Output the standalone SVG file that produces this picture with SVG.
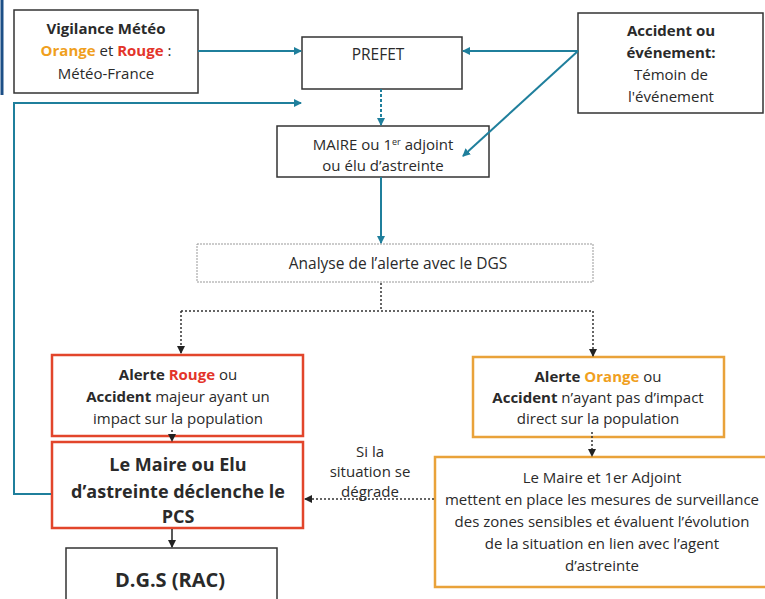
<svg xmlns="http://www.w3.org/2000/svg" width="765" height="599" viewBox="0 0 765 599">
<style>
text{font-family:"Open Sans","Noto Sans","Liberation Sans",sans-serif;fill:#2a2a2a;text-anchor:middle;font-size:15px}
.b{font-weight:bold}
.big{font-size:18px;font-weight:bold}
.or{fill:#f0a01e;font-weight:bold}
.rd{fill:#e3342a;font-weight:bold}
.box{fill:#fff;stroke:#333;stroke-width:1.5}
.red{fill:#fff;stroke:#e2452b;stroke-width:2.5}
.ora{fill:#fff;stroke:#e9a23a;stroke-width:2.5}
.blue{fill:none;stroke:#1f7f9c;stroke-width:2}
.dot{fill:none;stroke:#333;stroke-width:1.5;stroke-dasharray:2 2}
.dotb{fill:none;stroke:#1f7f9c;stroke-width:2;stroke-dasharray:3 2}
</style>
<defs>
<marker id="ab" markerWidth="8" markerHeight="8" refX="7" refY="4" orient="auto" markerUnits="userSpaceOnUse"><path d="M0,0 L8,4 L0,8 z" fill="#1f7f9c"/></marker>
<marker id="ad" markerWidth="8" markerHeight="8" refX="7" refY="4" orient="auto" markerUnits="userSpaceOnUse"><path d="M0,0 L8,4 L0,8 z" fill="#222"/></marker>
</defs>
<rect width="765" height="599" fill="#fff"/>
<line x1="2" y1="0" x2="2" y2="95" stroke="#1c4f86" stroke-width="3"/>
<g id="vigilance">
<rect class="box" x="14" y="10" width="184" height="83"/>
<text x="106" y="34" class="b">Vigilance Météo</text>
<text x="106" y="56"><tspan class="or">Orange</tspan> et <tspan class="rd">Rouge</tspan> :</text>
<text x="106" y="79">Météo-France</text>
</g>
<g id="prefet">
<rect class="box" x="302" y="37" width="160" height="52" stroke-width="1.2"/>
<text x="378" y="60" style="font-size:15.5px">PREFET</text>
</g>
<g id="accident">
<rect class="box" x="578" y="13" width="185" height="100"/>
<text x="671" y="36" class="b">Accident ou</text>
<text x="671" y="58" class="b">événement:</text>
<text x="671" y="80">Témoin de</text>
<text x="671" y="102">l'événement</text>
</g>
<g id="maire">
<rect class="box" x="277" y="126" width="212" height="51" stroke-width="1.2"/>
<text x="383" y="150">MAIRE ou 1<tspan style="font-size:9px" dy="-5">er</tspan><tspan dy="5"> adjoint</tspan></text>
<text x="383" y="171">ou élu d’astreinte</text>
</g>
<g id="analyse">
<rect x="197" y="244" width="396" height="38" fill="#fff" stroke="#999" stroke-width="1" stroke-dasharray="2 1"/>
<text x="398" y="269" style="font-size:15.5px">Analyse de l’alerte avec le DGS</text>
</g>
<g id="alerte-rouge">
<rect class="red" x="52" y="355" width="251" height="81"/>
<text x="178" y="380"><tspan class="b">Alerte </tspan><tspan class="rd">Rouge</tspan> ou</text>
<text x="178" y="402"><tspan class="b">Accident</tspan> majeur ayant un</text>
<text x="178" y="424">impact sur la population</text>
</g>
<g id="pcs">
<rect class="red" x="52" y="442" width="251" height="86"/>
<text x="178" y="471" class="big">Le Maire ou Elu</text>
<text x="178" y="498" class="big">d’astreinte déclenche le</text>
<text x="178" y="523" class="big">PCS</text>
</g>
<g id="dgs">
<rect class="box" x="66" y="548" width="211" height="60" stroke-width="1.2"/>
<text x="170" y="587" class="big" style="font-size:20px">D.G.S (RAC)</text>
</g>
<g id="alerte-orange">
<rect class="ora" x="473" y="357" width="251" height="80"/>
<text x="598" y="382"><tspan class="b">Alerte </tspan><tspan class="or">Orange</tspan> ou</text>
<text x="598" y="403"><tspan class="b">Accident</tspan> n’ayant pas d’impact</text>
<text x="598" y="424">direct sur la population</text>
</g>
<g id="surveillance">
<rect class="ora" x="435" y="457" width="340" height="130"/>
<text x="602" y="483">Le Maire et 1er Adjoint</text>
<text x="602" y="505">mettent en place les mesures de surveillance</text>
<text x="602" y="527">des zones sensibles et évaluent l’évolution</text>
<text x="602" y="549">de la situation en lien avec l’agent</text>
<text x="602" y="571">d’astreinte</text>
</g>
<g id="connectors">
<line class="blue" x1="198" y1="51" x2="301" y2="51" marker-end="url(#ab)"/>
<line class="blue" x1="578" y1="51" x2="463" y2="51" marker-end="url(#ab)"/>
<line class="blue" x1="578" y1="51" x2="463" y2="156" marker-end="url(#ab)"/>
<line class="dotb" x1="381" y1="89" x2="381" y2="125" marker-end="url(#ab)"/>
<line class="blue" x1="381" y1="177" x2="381" y2="243" marker-end="url(#ab)"/>
<polyline class="blue" points="51,494 14,494 14,103 301,103" marker-end="url(#ab)"/>
<line class="dot" x1="381" y1="283" x2="381" y2="311"/>
<line class="dot" x1="181" y1="311" x2="593" y2="311"/>
<line class="dot" x1="181" y1="311" x2="181" y2="353" marker-end="url(#ad)"/>
<line class="dot" x1="593" y1="311" x2="593" y2="356" marker-end="url(#ad)"/>
<line class="dot" x1="172" y1="430" x2="172" y2="441" marker-end="url(#ad)"/>
<line class="dot" x1="592" y1="432" x2="592" y2="456" marker-end="url(#ad)"/>
<line x1="172" y1="529" x2="172" y2="547" stroke="#222" stroke-width="1.5" marker-end="url(#ad)"/>
<line class="dot" x1="434" y1="499" x2="305" y2="499" marker-end="url(#ad)"/>
<text x="370" y="457">Si la</text>
<text x="370" y="477">situation se</text>
<text x="370" y="497">dégrade</text>
</g>
</svg>
